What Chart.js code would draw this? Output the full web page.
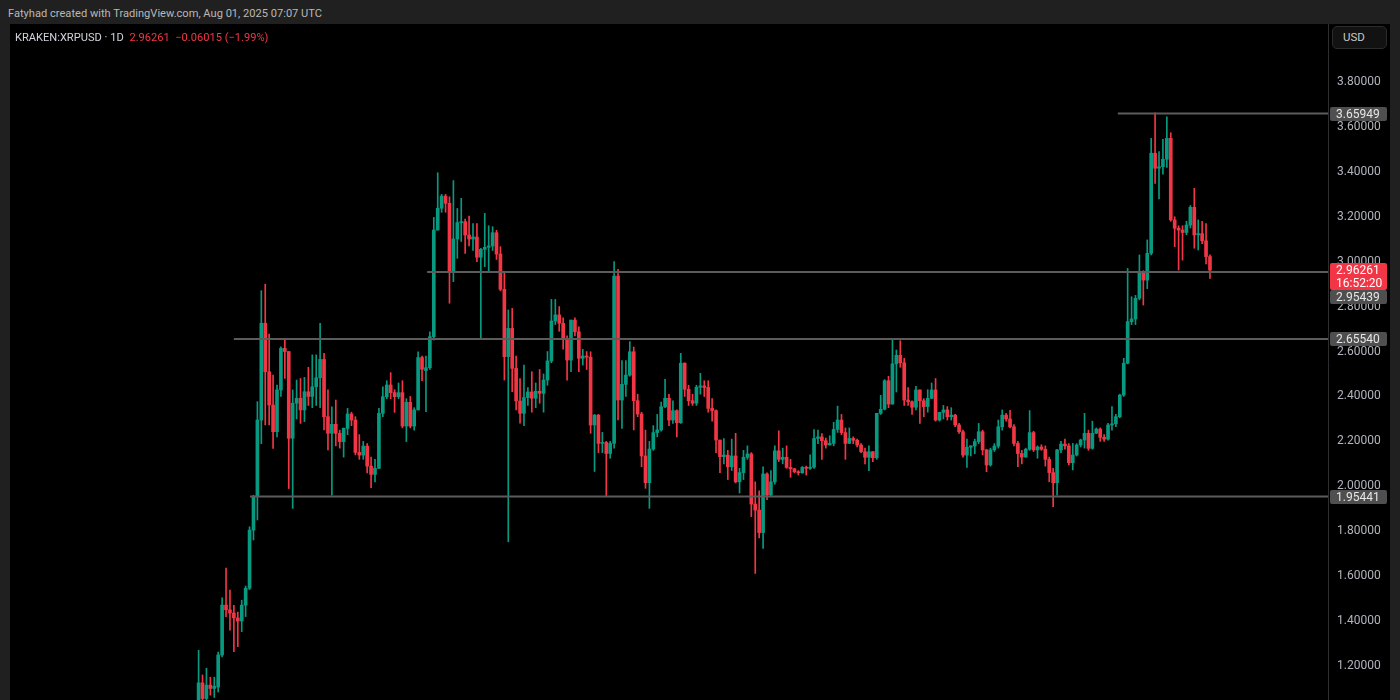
<!DOCTYPE html>
<html><head><meta charset="utf-8">
<script src="https://cdn.jsdelivr.net/npm/chart.js@4.4.1/dist/chart.umd.min.js"></script>
<style>
html,body{margin:0;padding:0;background:#202020;width:1400px;height:700px;overflow:hidden;font-family:Roboto,"Noto Sans",sans-serif}
#credit{position:absolute;left:8px;top:7px;font-size:11.1px;color:#b8b8b8;white-space:nowrap}
#panel{position:absolute;left:10px;top:24px;width:1380px;height:676px;background:#000}
#sym{position:absolute;left:15px;top:31px;font-size:11.1px;color:#d1d4dc;z-index:2;white-space:nowrap}
#sym .p{color:#f23645;margin-left:3px}
#usd{position:absolute;left:1332px;top:26px;width:55px;height:23px;border:1px solid #2c2c2c;border-radius:5px;background:#121212;color:#c8c8c8;font-size:11.5px;line-height:21px;padding-left:10px;box-sizing:border-box;z-index:2}
canvas{position:absolute;left:0;top:0}
</style></head>
<body>
<div id="credit">Fatyhad created with TradingView.com, Aug 01, 2025 07:07 UTC</div>
<div id="panel"><canvas id="c" width="1380" height="676"></canvas></div>
<div id="sym">KRAKEN:XRPUSD · 1D <span class="p">2.96261&nbsp; −0.06015 (−1.99%)</span></div>
<div id="usd">USD</div>
<script>
// Daily candles, KRAKEN:XRPUSD, first candle = 2024-11-16, last = 2025-08-01
const firstDate = '2024-11-16';
const opens = [
1.00,1.125,1.055,1.115,1.10,1.106,1.249,1.471,1.45,1.436,
1.414,1.40,1.471,1.546,1.805,1.954,2.295,2.726,2.51,2.362,
2.243,2.429,2.614,2.60,2.214,2.37,2.392,2.34,2.421,2.40,
2.443,2.483,2.565,2.31,2.236,2.276,2.236,2.199,2.258,2.322,
2.295,2.151,2.139,2.179,2.09,2.053,2.08,2.325,2.399,2.451,
2.417,2.399,2.417,2.268,2.374,2.268,2.34,2.573,2.515,2.528,
2.666,3.141,3.238,3.292,3.26,2.955,3.101,3.174,3.178,3.119,
3.101,3.11,3.02,3.055,3.064,3.07,3.129,3.034,2.877,2.577,
2.703,2.525,2.38,2.325,2.395,2.42,2.392,2.423,2.414,2.473,
2.558,2.736,2.763,2.726,2.659,2.562,2.74,2.688,2.57,2.58,
2.575,2.273,2.317,2.191,2.195,2.146,2.191,2.936,2.384,2.454,
2.495,2.599,2.381,2.322,2.135,2.016,2.166,2.239,2.251,2.354,
2.392,2.295,2.337,2.283,2.548,2.432,2.381,2.37,2.441,2.447,
2.44,2.347,2.337,2.206,2.132,2.139,2.087,2.135,2.02,2.061,
2.129,2.144,1.921,1.894,1.794,2.055,1.961,2.02,2.158,2.12,
2.129,2.084,2.078,2.065,2.06,2.084,2.08,2.085,2.213,2.22,
2.203,2.184,2.191,2.253,2.295,2.239,2.191,2.213,2.205,2.184,
2.154,2.129,2.154,2.127,2.325,2.343,2.47,2.366,2.545,2.583,
2.55,2.384,2.377,2.352,2.429,2.381,2.355,2.392,2.429,2.295,
2.329,2.34,2.31,2.317,2.273,2.243,2.139,2.174,2.18,2.199,
2.243,2.162,2.095,2.162,2.179,2.265,2.317,2.30,2.265,2.191,
2.146,2.13,2.165,2.239,2.162,2.175,2.165,2.12,2.061,2.016,
2.162,2.188,2.18,2.105,2.139,2.184,2.206,2.236,2.169,2.236,
2.255,2.218,2.21,2.273,2.278,2.31,2.406,2.548,2.733,2.745,
2.837,2.955,2.918,3.037,3.483,3.416,3.423,3.456,3.549,3.186,
3.149,3.141,3.13,3.163,3.242,3.119,3.125,3.093,3.02276];
const highs = [
1.27,1.16,1.19,1.15,1.15,1.262,1.503,1.636,1.538,1.47,
1.44,1.493,1.556,1.82,1.96,2.377,2.871,2.90,2.678,2.495,
2.451,2.621,2.651,2.60,2.429,2.473,2.48,2.485,2.53,2.585,
2.585,2.726,2.592,2.429,2.354,2.384,2.25,2.26,2.347,2.33,
2.31,2.23,2.20,2.19,2.13,2.12,2.347,2.443,2.47,2.506,
2.43,2.46,2.47,2.39,2.40,2.35,2.599,2.58,2.58,2.688,
3.197,3.396,3.30,3.30,3.289,3.361,3.237,3.282,3.19,3.203,
3.17,3.17,3.06,3.215,3.16,3.156,3.14,3.067,2.95,2.785,
2.792,2.58,2.48,2.54,2.44,2.51,2.46,2.52,2.50,2.60,
2.832,2.832,2.80,2.75,2.67,2.74,2.75,2.71,2.61,2.60,
2.599,2.32,2.32,2.24,2.20,2.20,3.00,2.966,2.56,2.56,
2.644,2.62,2.41,2.33,2.25,2.20,2.27,2.32,2.375,2.476,
2.41,2.38,2.34,2.592,2.55,2.45,2.41,2.45,2.503,2.47,
2.47,2.39,2.34,2.206,2.213,2.16,2.21,2.236,2.08,2.16,
2.18,2.15,2.02,1.98,2.087,2.06,2.07,2.18,2.247,2.17,
2.18,2.12,2.08,2.07,2.088,2.09,2.14,2.253,2.25,2.235,
2.215,2.225,2.285,2.357,2.32,2.26,2.26,2.22,2.21,2.19,
2.17,2.18,2.155,2.325,2.405,2.475,2.49,2.654,2.607,2.648,
2.57,2.44,2.38,2.445,2.43,2.39,2.43,2.46,2.48,2.33,
2.36,2.355,2.35,2.32,2.28,2.25,2.21,2.18,2.21,2.28,
2.25,2.165,2.17,2.19,2.295,2.34,2.325,2.338,2.275,2.20,
2.16,2.17,2.337,2.245,2.18,2.185,2.18,2.13,2.08,2.165,
2.20,2.21,2.19,2.191,2.19,2.21,2.325,2.25,2.29,2.26,
2.26,2.23,2.28,2.355,2.32,2.41,2.57,2.97,2.844,2.85,
3.03,2.96,3.097,3.549,3.663,3.49,3.545,3.645,3.574,3.20,
3.16,3.16,3.18,3.25,3.327,3.186,3.18,3.17,3.03];
const lows = [
0.98,1.02,1.03,1.07,1.06,1.084,1.24,1.42,1.36,1.264,
1.286,1.353,1.42,1.54,1.761,1.85,2.19,2.273,2.273,2.169,
2.22,2.40,2.48,1.99,1.902,2.30,2.28,2.288,2.36,2.35,
2.36,2.35,2.251,2.162,1.961,2.18,2.17,2.13,2.23,2.27,
2.14,2.12,2.12,2.06,1.994,2.02,2.08,2.31,2.39,2.39,
2.329,2.39,2.26,2.199,2.26,2.25,2.34,2.47,2.332,2.52,
2.651,3.14,3.22,3.22,2.815,2.911,3.015,3.09,3.037,3.07,
3.05,3.0,2.659,2.978,2.96,3.05,3.01,2.87,2.473,1.753,
2.421,2.34,2.281,2.27,2.36,2.33,2.35,2.37,2.33,2.45,
2.55,2.72,2.69,2.61,2.473,2.51,2.67,2.51,2.54,2.52,
2.236,2.066,2.15,2.15,1.954,2.125,2.17,2.295,2.258,2.40,
2.49,2.251,2.31,2.087,1.991,1.902,2.16,2.22,2.245,2.35,
2.27,2.28,2.22,2.28,2.40,2.36,2.36,2.36,2.41,2.40,
2.33,2.29,2.15,2.061,2.10,2.03,2.07,2.015,1.97,2.03,
2.12,1.865,1.612,1.77,1.724,1.94,1.955,2.01,2.11,2.10,
2.08,2.04,2.06,2.05,2.058,2.05,2.075,2.08,2.19,2.12,
2.17,2.184,2.18,2.24,2.23,2.12,2.19,2.19,2.175,2.15,
2.10,2.07,2.11,2.12,2.32,2.34,2.35,2.366,2.42,2.53,
2.36,2.36,2.32,2.34,2.28,2.31,2.33,2.39,2.29,2.29,
2.30,2.295,2.295,2.265,2.235,2.13,2.084,2.135,2.145,2.19,
2.14,2.065,2.09,2.155,2.17,2.25,2.29,2.26,2.18,2.087,
2.10,2.13,2.16,2.155,2.125,2.16,2.09,2.02,1.909,1.96,
2.15,2.165,2.095,2.073,2.135,2.175,2.17,2.16,2.165,2.235,
2.20,2.20,2.205,2.25,2.265,2.305,2.40,2.545,2.72,2.72,
2.83,2.807,2.88,3.03,3.349,3.28,3.39,3.42,3.18,3.067,
2.963,3.007,3.12,3.15,3.06,3.052,3.08,2.99,2.926];
const closes = [
1.125,1.055,1.115,1.10,1.11,1.249,1.471,1.45,1.436,1.414,
1.40,1.471,1.546,1.805,1.954,2.295,2.726,2.51,2.362,2.243,
2.429,2.614,2.60,2.214,2.37,2.392,2.34,2.421,2.40,2.443,
2.483,2.565,2.31,2.236,2.276,2.236,2.199,2.258,2.322,2.295,
2.151,2.139,2.179,2.09,2.053,2.08,2.325,2.399,2.451,2.417,
2.399,2.417,2.268,2.374,2.268,2.34,2.573,2.521,2.528,2.666,
3.141,3.238,3.292,3.26,2.955,3.101,3.174,3.178,3.119,3.101,
3.11,3.02,3.055,3.064,3.07,3.129,3.034,2.877,2.577,2.703,
2.525,2.38,2.325,2.395,2.42,2.392,2.423,2.414,2.473,2.558,
2.736,2.763,2.726,2.659,2.562,2.74,2.688,2.57,2.58,2.575,
2.273,2.317,2.191,2.195,2.146,2.191,2.936,2.384,2.454,2.495,
2.599,2.381,2.322,2.135,2.016,2.166,2.239,2.251,2.354,2.392,
2.295,2.337,2.283,2.548,2.432,2.381,2.37,2.441,2.447,2.44,
2.347,2.337,2.206,2.132,2.139,2.087,2.135,2.02,2.061,2.129,
2.144,1.921,1.894,1.794,2.055,1.961,2.02,2.158,2.12,2.129,
2.084,2.078,2.065,2.06,2.084,2.08,2.085,2.213,2.22,2.203,
2.184,2.191,2.253,2.295,2.239,2.191,2.213,2.205,2.184,2.154,
2.129,2.154,2.127,2.325,2.343,2.47,2.366,2.545,2.583,2.55,
2.384,2.377,2.352,2.429,2.381,2.355,2.392,2.429,2.295,2.329,
2.34,2.31,2.317,2.273,2.243,2.139,2.174,2.18,2.199,2.243,
2.162,2.095,2.162,2.179,2.265,2.317,2.30,2.265,2.191,2.146,
2.13,2.165,2.239,2.162,2.175,2.165,2.12,2.061,2.016,2.162,
2.188,2.18,2.105,2.139,2.184,2.206,2.236,2.169,2.236,2.255,
2.218,2.21,2.273,2.278,2.31,2.406,2.548,2.733,2.745,2.837,
2.955,2.918,3.037,3.483,3.416,3.423,3.456,3.549,3.186,3.149,
3.141,3.13,3.163,3.242,3.119,3.125,3.093,3.02276,2.96261];

// Horizontal levels drawn on the chart and the candle position where each starts
const levels = [3.65949, 2.95439, 2.65540, 1.95441];
const levelStarts = [234.5, 58.3, 9.0, 13.1];
const tickValues = [1.2,1.4,1.6,1.8,2.0,2.2,2.4,2.6,2.8,3.0,3.2,3.4,3.6,3.8];
const countdown = '16:52:20';

const UP = '#089981', DOWN = '#f23645';
const X_MIN = -48.11, X_MAX = 288.11, Y_MIN = 1.0486, Y_MAX = 4.0582;

const colors = closes.map((c,i) => c >= opens[i] ? UP : DOWN);
const wickData = closes.map((c,i) => ({x:i, y:[lows[i], highs[i]]}));
const bodyData = closes.map((c,i) => ({x:i, y:[opens[i], c]}));

const datasets = [
  {type:'bar', data:wickData, backgroundColor:colors, barThickness:1, grouped:false, order:3, borderWidth:0},
  {type:'bar', data:bodyData, backgroundColor:colors, barThickness:3, grouped:false, order:2, borderWidth:0, minBarLength:1}
];
levels.forEach((lv,k) => datasets.push({
  type:'line', data:[{x:levelStarts[k], y:lv},{x:X_MAX, y:lv}],
  borderColor:'#5c5c5c', borderWidth:2, pointRadius:0, order:1, tension:0
}));

function rr(ctx,x,y,w,h,r){ctx.beginPath();ctx.moveTo(x+r,y);ctx.lineTo(x+w-r,y);ctx.quadraticCurveTo(x+w,y,x+w,y+r);ctx.lineTo(x+w,y+h-r);ctx.quadraticCurveTo(x+w,y+h,x+w-r,y+h);ctx.lineTo(x+r,y+h);ctx.quadraticCurveTo(x,y+h,x,y+h-r);ctx.lineTo(x,y+r);ctx.quadraticCurveTo(x,y,x+r,y);ctx.closePath();ctx.fill();}

const overlay = {
  id:'overlay',
  afterDraw(chart){
    const ctx = chart.ctx, ys = chart.scales.y, bx = chart.chartArea.right + 2, bw = 57;
    ctx.save();
    ctx.font = '12px Roboto';
    ctx.textBaseline = 'middle';
    ctx.textAlign = 'left';
    const last = closes[closes.length-1];
    const yp = Math.round(ys.getPixelForValue(last));
    const rTop = yp - 7, rBot = yp + 20;
    levels.forEach(lv => {
      let yy = Math.round(ys.getPixelForValue(lv));
      if (yy > rTop - 7 && yy < rBot + 7) yy = rBot + 7;
      ctx.fillStyle = '#4f4f4f';
      rr(ctx, bx, yy-7, bw, 14, 2);
      ctx.fillStyle = '#e6e6e6';
      ctx.fillText(lv.toFixed(5), bx+6, yy+0.5);
    });
    ctx.fillStyle = '#f23645';
    rr(ctx, bx, rTop, bw, rBot - rTop, 2);
    ctx.fillStyle = '#ffffff';
    ctx.fillText(last.toFixed(5), bx+6, yp+0.5);
    ctx.fillText(countdown, bx+6, yp+13.5);
    ctx.restore();
  }
};

new Chart(document.getElementById('c'), {
  type:'bar',
  data:{datasets},
  options:{
    responsive:false, animation:false,
    layout:{padding:0},
    plugins:{legend:{display:false}, tooltip:{enabled:false}},
    scales:{
      x:{type:'linear', display:false, min:X_MIN, max:X_MAX, offset:false},
      y:{position:'right', min:Y_MIN, max:Y_MAX,
         grid:{display:false, drawTicks:false},
         border:{display:true, color:'#2e2e2e', width:1},
         ticks:{color:'#b2b5be', font:{family:'Roboto', size:12, lineHeight:1.0}, padding:9,
                callback:v => Number(v).toFixed(5)},
         afterBuildTicks(s){ s.ticks = tickValues.map(v => ({value:v})); },
         afterFit(s){ s.width = 62; s.paddingTop = 0; s.paddingBottom = 0; }
      }
    }
  },
  plugins:[overlay]
});
</script>
</body></html>
